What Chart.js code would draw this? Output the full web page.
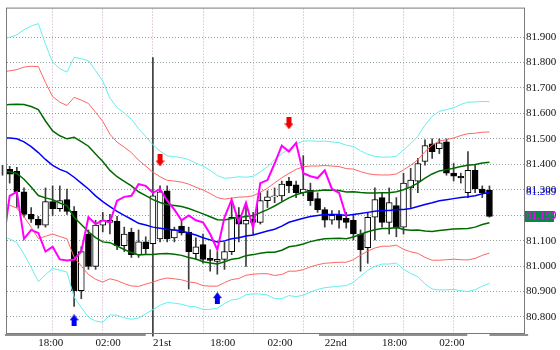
<!DOCTYPE html>
<html><head><meta charset="utf-8">
<script src="https://cdn.jsdelivr.net/npm/chart.js@4.4.1/dist/chart.umd.min.js"></script>
<style>html,body{margin:0;padding:0;background:#fff;}canvas{display:block;}</style>
</head><body>
<canvas id="c" width="560" height="350"></canvas>
<script>
// ---- data (hourly candles, index 0 is clipped at the left edge) ----
const candleOpen = [81.384,81.380,81.372,81.292,81.203,81.184,81.161,81.253,81.226,81.261,81.215,80.903,81.126,80.999,81.161,81.172,81.176,81.080,81.134,81.045,81.095,81.088,81.107,81.296,81.111,81.157,81.134,81.049,81.084,81.030,81.018,81.026,81.057,81.199,81.165,81.184,81.172,81.257,81.272,81.276,81.334,81.319,81.288,81.299,81.265,81.222,81.180,81.199,81.188,81.180,81.126,81.072,81.192,81.269,81.172,81.238,81.153,81.307,81.334,81.411,81.480,81.461,81.488,81.365,81.353,81.288,81.376,81.303,81.299];
const candleHigh = [81.396,81.392,81.388,81.307,81.230,81.195,81.307,81.315,81.315,81.303,81.234,81.076,81.142,81.180,81.211,81.203,81.195,81.153,81.149,81.142,81.115,81.819,81.315,81.315,81.153,81.180,81.153,81.111,81.126,81.064,81.057,81.095,81.249,81.230,81.249,81.211,81.288,81.296,81.307,81.334,81.349,81.334,81.434,81.326,81.288,81.230,81.218,81.218,81.211,81.203,81.142,81.211,81.307,81.288,81.307,81.269,81.365,81.384,81.423,81.496,81.500,81.500,81.500,81.403,81.365,81.450,81.396,81.315,81.315];
const candleLow = [81.357,81.326,81.230,81.192,81.172,81.149,81.153,81.199,81.215,81.203,80.841,80.872,80.987,80.987,81.134,81.126,81.064,81.057,81.034,81.034,81.049,80.725,81.095,81.095,81.095,81.122,80.910,81.026,81.011,80.980,80.968,80.987,81.045,81.095,80.999,81.122,81.165,81.230,81.249,81.257,81.288,81.269,81.276,81.238,81.211,81.153,81.165,81.149,81.149,81.103,80.980,81.011,81.103,81.153,81.126,81.115,81.126,81.230,81.288,81.396,81.423,81.442,81.357,81.334,81.326,81.269,81.288,81.269,81.192];
const candleClose = [81.372,81.361,81.292,81.203,81.184,81.161,81.253,81.226,81.257,81.215,80.903,81.057,80.999,81.161,81.180,81.180,81.080,81.126,81.045,81.095,81.068,81.276,81.292,81.107,81.142,81.130,81.057,81.076,81.026,81.022,81.026,81.057,81.192,81.165,81.180,81.172,81.257,81.272,81.276,81.322,81.315,81.288,81.303,81.257,81.222,81.180,81.199,81.180,81.172,81.126,81.064,81.192,81.261,81.172,81.249,81.149,81.326,81.338,81.403,81.473,81.450,81.484,81.365,81.353,81.346,81.376,81.303,81.288,81.195];
// Bollinger centre line (blue) and one standard deviation, read per candle
const midBand = [81.503,81.503,81.500,81.488,81.469,81.446,81.419,81.396,81.380,81.369,81.349,81.326,81.303,81.276,81.253,81.234,81.215,81.199,81.184,81.168,81.161,81.153,81.149,81.145,81.142,81.138,81.130,81.122,81.111,81.103,81.095,81.099,81.107,81.111,81.118,81.122,81.130,81.138,81.145,81.157,81.172,81.180,81.188,81.195,81.199,81.203,81.203,81.203,81.199,81.203,81.207,81.211,81.215,81.218,81.218,81.222,81.222,81.226,81.234,81.242,81.249,81.257,81.261,81.265,81.269,81.272,81.276,81.284,81.289];
const bandSigma = [0.130,0.132,0.136,0.147,0.158,0.169,0.151,0.135,0.132,0.131,0.157,0.163,0.168,0.164,0.158,0.142,0.136,0.134,0.131,0.124,0.116,0.108,0.101,0.096,0.096,0.096,0.096,0.094,0.094,0.091,0.087,0.082,0.080,0.080,0.077,0.077,0.080,0.084,0.091,0.095,0.096,0.100,0.101,0.099,0.097,0.096,0.095,0.094,0.092,0.089,0.082,0.076,0.072,0.070,0.070,0.070,0.078,0.085,0.092,0.104,0.113,0.117,0.118,0.119,0.122,0.124,0.123,0.121,0.119];
// magenta lagging line
const laggingSpan = [81.068,81.276,81.292,81.107,81.142,81.130,81.057,81.076,81.026,81.022,81.026,81.057,81.192,81.165,81.180,81.172,81.257,81.272,81.276,81.322,81.315,81.288,81.303,81.257,81.222,81.180,81.199,81.180,81.172,81.126,81.064,81.192,81.261,81.172,81.249,81.149,81.326,81.338,81.403,81.473,81.450,81.484,81.365,81.353,81.346,81.376,81.303,81.288,81.195];
const yTickValues = [80.8,80.9,81.0,81.1,81.2,81.3,81.4,81.5,81.6,81.7,81.8,81.9];
const xGridIndex = [7,14,21,28,35,42,49,56,63];
const xLabelIndex = [5,13,21,29,37,45,53,61];
const xTickLabels = ['18:00','02:00','21st','18:00','02:00','22nd','18:00','02:00'];
const arrowDownIndex = [22,40];
const arrowDownPrice = [81.415,81.561];
const arrowUpIndex = [10,30];
const arrowUpPrice = [80.787,80.874];

// ---- build ----
const idx = candleOpen.map((_, i) => i);
const bodyData = idx.map(i => ({x: i, y: [candleOpen[i], candleClose[i]]}));
const wickData = idx.map(i => ({x: i, y: [candleLow[i], candleHigh[i]]}));
const band = k => idx.map(i => ({x: i, y: +(midBand[i] + k * bandSigma[i]).toFixed(4)}));
const lagData = laggingSpan.map((v, i) => ({x: i, y: v}));

function arrowCanvas(color, up) {
  const c = document.createElement('canvas');
  c.width = 9; c.height = 12;
  const g = c.getContext('2d');
  g.fillStyle = color;
  g.beginPath();
  const pts = [[2,0],[7,0],[7,6],[9,6],[4.5,12],[0,6],[2,6]];
  pts.forEach(([px, py], k) => {
    const yy = up ? 12 - py : py;
    if (k === 0) g.moveTo(px, yy); else g.lineTo(px, yy);
  });
  g.closePath();
  g.fill();
  return c;
}
const redArrow = arrowCanvas('#ee0000', false);
const blueArrow = arrowCanvas('#0000ee', true);

const lineDs = (data, color, width, order) => ({
  type: 'line', data, borderColor: color, borderWidth: width, pointRadius: 0,
  tension: 0, fill: false, order
});

const deco = {
  id: 'deco',
  beforeDraw(chart) {
    const c = chart.ctx;
    c.save(); c.fillStyle = '#ffffff'; c.fillRect(0, 0, chart.width, chart.height); c.restore();
  },
  afterDraw(chart) {
    const {ctx: c, chartArea: a, scales: {x, y}} = chart;
    c.save();
    c.strokeStyle = '#7a7a7a'; c.lineWidth = 1;
    c.strokeRect(a.left - 0.5, a.top - 0.5, a.right - a.left + 1, a.bottom - a.top + 1);
    // bottom session strips (in candle index units)
    c.fillStyle = '#8f8f8f';
    [[0.35, 20.0], [44.2, 64.9], [68.0, 73.4]].forEach(([s, e]) => {
      const x0 = Math.max(0, x.getPixelForValue(s)), x1 = x.getPixelForValue(e);
      c.fillRect(x0, a.bottom + 1, x1 - x0, 2);
    });
    c.font = '11px "Liberation Serif"';
    c.textBaseline = 'middle'; c.textAlign = 'left';
    const lastMid = midBand[midBand.length - 1];
    c.fillStyle = '#0000ff';
    c.fillText(lastMid.toFixed(3), a.right + 2, y.getPixelForValue(lastMid));
    const lastClose = candleClose[candleClose.length - 1];
    const yc = Math.round(y.getPixelForValue(lastClose));
    c.fillStyle = '#008c46';
    c.fillRect(a.right + 1, yc - 5, 29, 11);
    c.fillStyle = '#ff00ff';
    c.fillText(lastClose.toFixed(3), a.right + 2, yc + 0.5);
    c.restore();
  }
};

new Chart(document.getElementById('c'), {
  type: 'line',
  data: {
    datasets: [
      {type: 'bar', data: wickData, backgroundColor: '#3c3c3c', borderWidth: 0, barThickness: 1, grouped: false, order: 20, clip: false},
      {type: 'bar', data: bodyData,
       backgroundColor: ctx => (candleClose[ctx.dataIndex] < candleOpen[ctx.dataIndex] ? '#000000' : '#ffffff'),
       borderColor: '#000000', borderWidth: 1, borderSkipped: false, barThickness: 6, grouped: false, order: 19},
      lineDs(band(3), '#66eeee', 1, 10),
      lineDs(band(-3), '#66eeee', 1, 10),
      lineDs(band(2), '#ff6464', 1, 10),
      lineDs(band(-2), '#ff6464', 1, 10),
      lineDs(band(1), '#006a00', 1.5, 9),
      lineDs(band(-1), '#006a00', 1.5, 9),
      lineDs(band(0), '#0000ff', 1.5, 8),
      lineDs(lagData, '#ff00ff', 2, 2),
      {type: 'line', showLine: false, data: arrowDownIndex.map((v, i) => ({x: v, y: arrowDownPrice[i]})),
       pointStyle: redArrow, pointRadius: 6, order: 1},
      {type: 'line', showLine: false, data: arrowUpIndex.map((v, i) => ({x: v, y: arrowUpPrice[i]})),
       pointStyle: blueArrow, pointRadius: 6, order: 1}
    ]
  },
  options: {
    responsive: false, animation: false, devicePixelRatio: 1,
    layout: {padding: {left: 2, top: 2, right: 0, bottom: 0}},
    plugins: {legend: {display: false}, tooltip: {enabled: false}},
    scales: {
      x: {
        type: 'linear', min: 0.6266, max: 72.8257, offset: false,
        afterBuildTicks: s => {
          const vals = [...new Set([...xGridIndex, ...xLabelIndex])].sort((a, b) => a - b);
          s.ticks = vals.map(v => ({value: v}));
        },
        afterFit: s => { s.height = 17; },
        grid: {
          color: ctx => (ctx.tick && xGridIndex.includes(ctx.tick.value) ? '#c8a8c8' : 'rgba(0,0,0,0)'),
          drawTicks: false, offset: false
        },
        border: {display: false, dash: [1, 2]},
        ticks: {
          autoSkip: false, maxRotation: 0, minRotation: 0, align: 'start', padding: 4,
          color: '#111', font: {family: 'Liberation Serif', size: 11},
          callback: v => { const k = xLabelIndex.indexOf(v); return k >= 0 ? xTickLabels[k] : ''; }
        }
      },
      y: {
        position: 'right', min: 80.737, max: 82.0117,
        afterBuildTicks: s => { s.ticks = yTickValues.map(v => ({value: v})); },
        afterFit: s => { s.width = 36; },
        grid: {color: '#8ea0a0', drawTicks: false},
        border: {display: false, dash: [1, 2]},
        ticks: {padding: 2, color: '#111', font: {family: 'Liberation Serif', size: 11},
                callback: v => Number(v).toFixed(3)}
      }
    }
  },
  plugins: [deco]
});
</script>
</body></html>
